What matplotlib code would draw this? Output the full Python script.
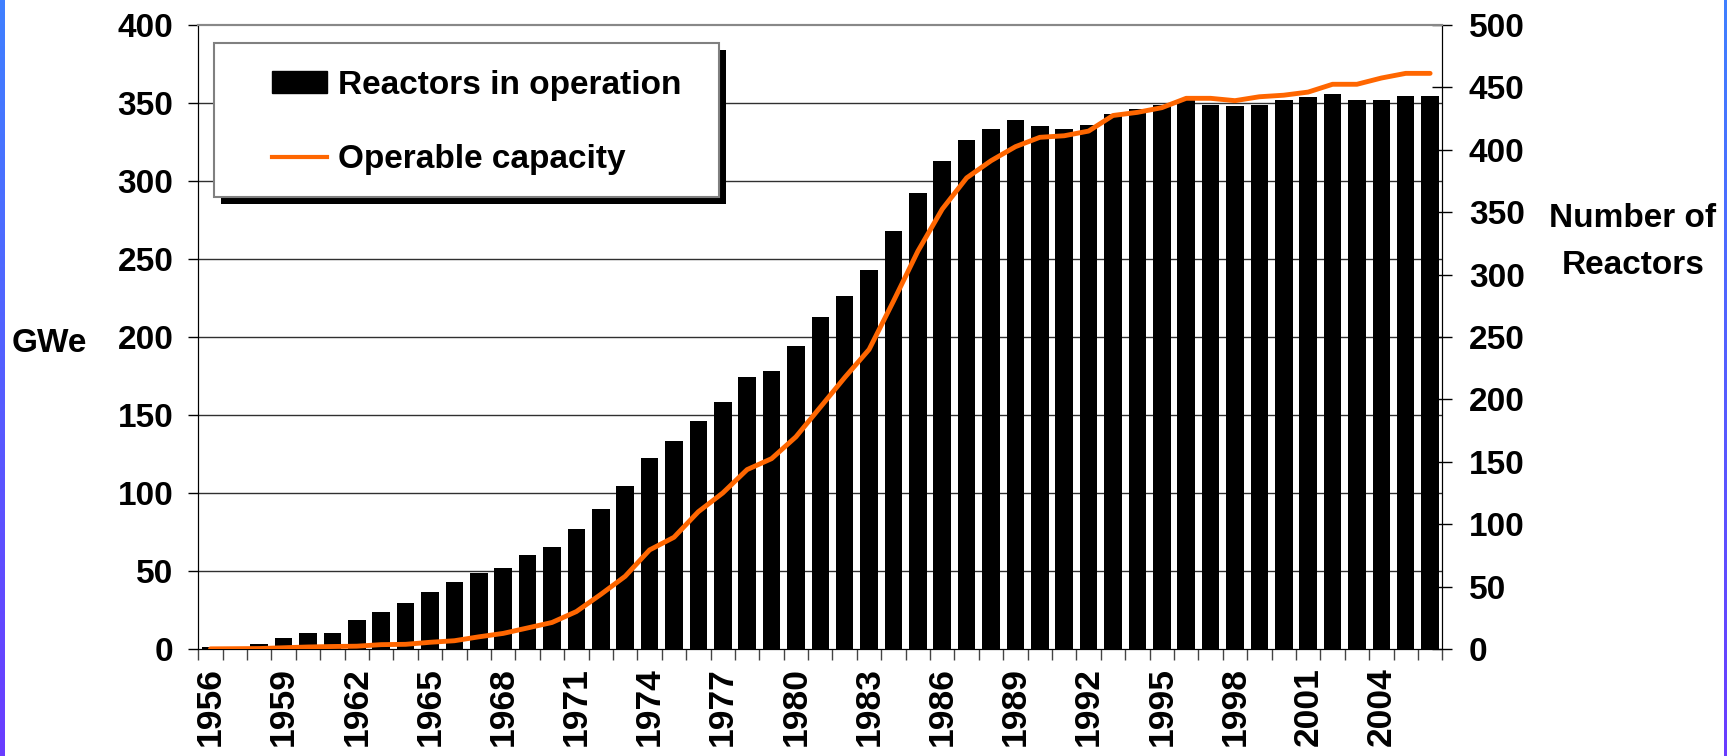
import numpy as np
import matplotlib
matplotlib.use("Agg")
import matplotlib.pyplot as plt
from matplotlib.patches import Rectangle, Patch
from matplotlib.lines import Line2D

# =======================
# Data
# =======================
years = list(range(1956, 2007))

reactors = [2, 2, 4, 9, 13, 13, 23, 30, 37, 46,
            54, 61, 65, 75, 82, 96, 112, 131, 153, 167,
            183, 198, 218, 223, 243, 266, 283, 304, 335, 365,
            391, 408, 417, 424, 419, 417, 420, 429, 433, 436,
            440, 436, 435, 436, 440, 442, 445, 440, 440, 443, 443]

capacity_gwe = [0.1, 0.2, 0.3, 0.8, 1.3, 1.6, 1.8, 2.8, 3.0, 4.3,
                5.3, 7.8, 10, 13.5, 17, 24, 35, 46.6, 63.5, 71.6,
                88, 100, 115, 122, 136, 155, 174, 192, 223, 255,
                282, 302, 313, 322, 328, 329, 332, 342, 344, 347,
                353, 353, 351.5, 354, 355, 357, 362, 362, 366, 369, 369]

gwe_ticks = list(range(0, 401, 50))
reactor_ticks = list(range(0, 501, 50))
label_years = years[::3]

# =======================
# Figure setup
# =======================
plt.rcParams["font.family"] = ["Liberation Sans", "DejaVu Sans"]
plt.rcParams["font.weight"] = "bold"
FS = 24

W, H = 1727, 756
fig = plt.figure(figsize=(W / 100, H / 100), dpi=100)
fig.patch.set_facecolor("white")

# blue/purple edge strips
grad = np.linspace(0, 1, 256).reshape(-1, 1)
strip_cmap = matplotlib.colors.LinearSegmentedColormap.from_list(
    "edge", ["#3f80ff", "#6a3cff"])
for x0, w in [(0, 4.6), (1723.5, 3.5)]:
    sax = fig.add_axes([x0 / W, 0, w / W, 1])
    sax.imshow(grad, aspect="auto", cmap=strip_cmap)
    sax.axis("off")

left, right, top, bottom = 198.3, 1442.3, 25, 649
ax_gwe = fig.add_axes([left / W, 1 - bottom / H, (right - left) / W, (bottom - top) / H])
ax_num = ax_gwe.twinx()

# line axes above bar axes
ax_gwe.set_zorder(ax_num.get_zorder() + 1)
ax_gwe.patch.set_visible(False)

x = np.arange(len(years))

# =======================
# Bars (right axis) and line (left axis)
# =======================
ax_num.bar(x, reactors, width=0.72, color="black", zorder=2)
ax_gwe.plot(x, capacity_gwe, color="#ff6600", lw=3.5, solid_joinstyle="round",
            solid_capstyle="round", zorder=3)

ax_gwe.set_xlim(-0.5, len(years) - 0.5)
ax_gwe.set_ylim(0, 400)
ax_num.set_ylim(0, 500)

# gridlines on GWe ticks
for v in gwe_ticks[1:-1]:
    ax_num.axhline(v * 500 / 400, color="#303030", lw=1, zorder=1)

# y ticks
ax_gwe.set_yticks(gwe_ticks)
ax_gwe.set_yticklabels([str(v) for v in gwe_ticks], fontsize=FS, fontweight="bold")
ax_gwe.tick_params(axis="y", direction="out", length=7.2, width=1, pad=10.6, colors="black")

ax_num.set_yticks(reactor_ticks)
ax_num.set_yticklabels([str(v) for v in reactor_ticks], fontsize=FS, fontweight="bold")
ax_num.tick_params(axis="y", direction="inout", length=14.4, width=1, pad=12, colors="black")

# x ticks: boundaries as minor ticks, labels every 3 years
ax_gwe.set_xticks(np.arange(-0.5, len(years), 1), minor=True)
ax_gwe.set_xticks([years.index(y) for y in label_years])
ax_gwe.set_xticklabels([str(y) for y in label_years], rotation=90,
                       fontsize=25.5, fontweight="bold", va="top", ha="center")
ax_gwe.tick_params(axis="x", which="major", length=0, pad=13.2)
ax_gwe.tick_params(axis="x", which="minor", direction="out", length=8, width=1, color="#444444")

for a in (ax_gwe, ax_num):
    a.spines["top"].set_color("#888888")
    a.spines["top"].set_linewidth(1.5)
    a.spines["left"].set_color("black")
    a.spines["right"].set_color("black")
    a.spines["bottom"].set_color("black")

# axis titles
fig.text(11.5 / W, 1 - 344 / H, "GWe", fontsize=FS, fontweight="bold",
         ha="left", va="center")
fig.text(1633 / W, 1 - 242 / H, "Number of\nReactors", fontsize=FS, fontweight="bold",
         ha="center", va="center", linespacing=1.7)

# =======================
# Legend with box and black shadow
# =======================
bx0 = (214.3 - left) / (right - left)
bx1 = (719.3 - left) / (right - left)
by1 = (bottom - 42.7) / (bottom - top)
by0 = (bottom - 196.7) / (bottom - top)
dx = 7 / (right - left)
dy = 7 / (bottom - top)
ax_gwe.add_patch(Rectangle((bx0 + dx, by0 - dy), bx1 - bx0, by1 - by0,
                           transform=ax_gwe.transAxes, facecolor="black",
                           edgecolor="none", zorder=5, clip_on=False))
ax_gwe.add_patch(Rectangle((bx0, by0), bx1 - bx0, by1 - by0,
                           transform=ax_gwe.transAxes, facecolor="white",
                           edgecolor="#808080", lw=1.5, zorder=6, clip_on=False))

handles = [Patch(facecolor="black", edgecolor="black"),
           Line2D([0], [0], color="#ff6600", lw=3)]
leg = ax_gwe.legend(handles, ["Reactors in operation", "Operable capacity"],
                    loc="upper left",
                    bbox_to_anchor=((271.7 - left) / (right - left), (bottom - 70) / (bottom - top)),
                    frameon=False, prop={"weight": "bold", "size": FS},
                    handlelength=1.65, handleheight=0.65, handletextpad=0.35,
                    labelspacing=1.3, borderpad=0, borderaxespad=0)
leg.set_zorder(7)

fig.savefig("out.png", dpi=100, facecolor="white")
